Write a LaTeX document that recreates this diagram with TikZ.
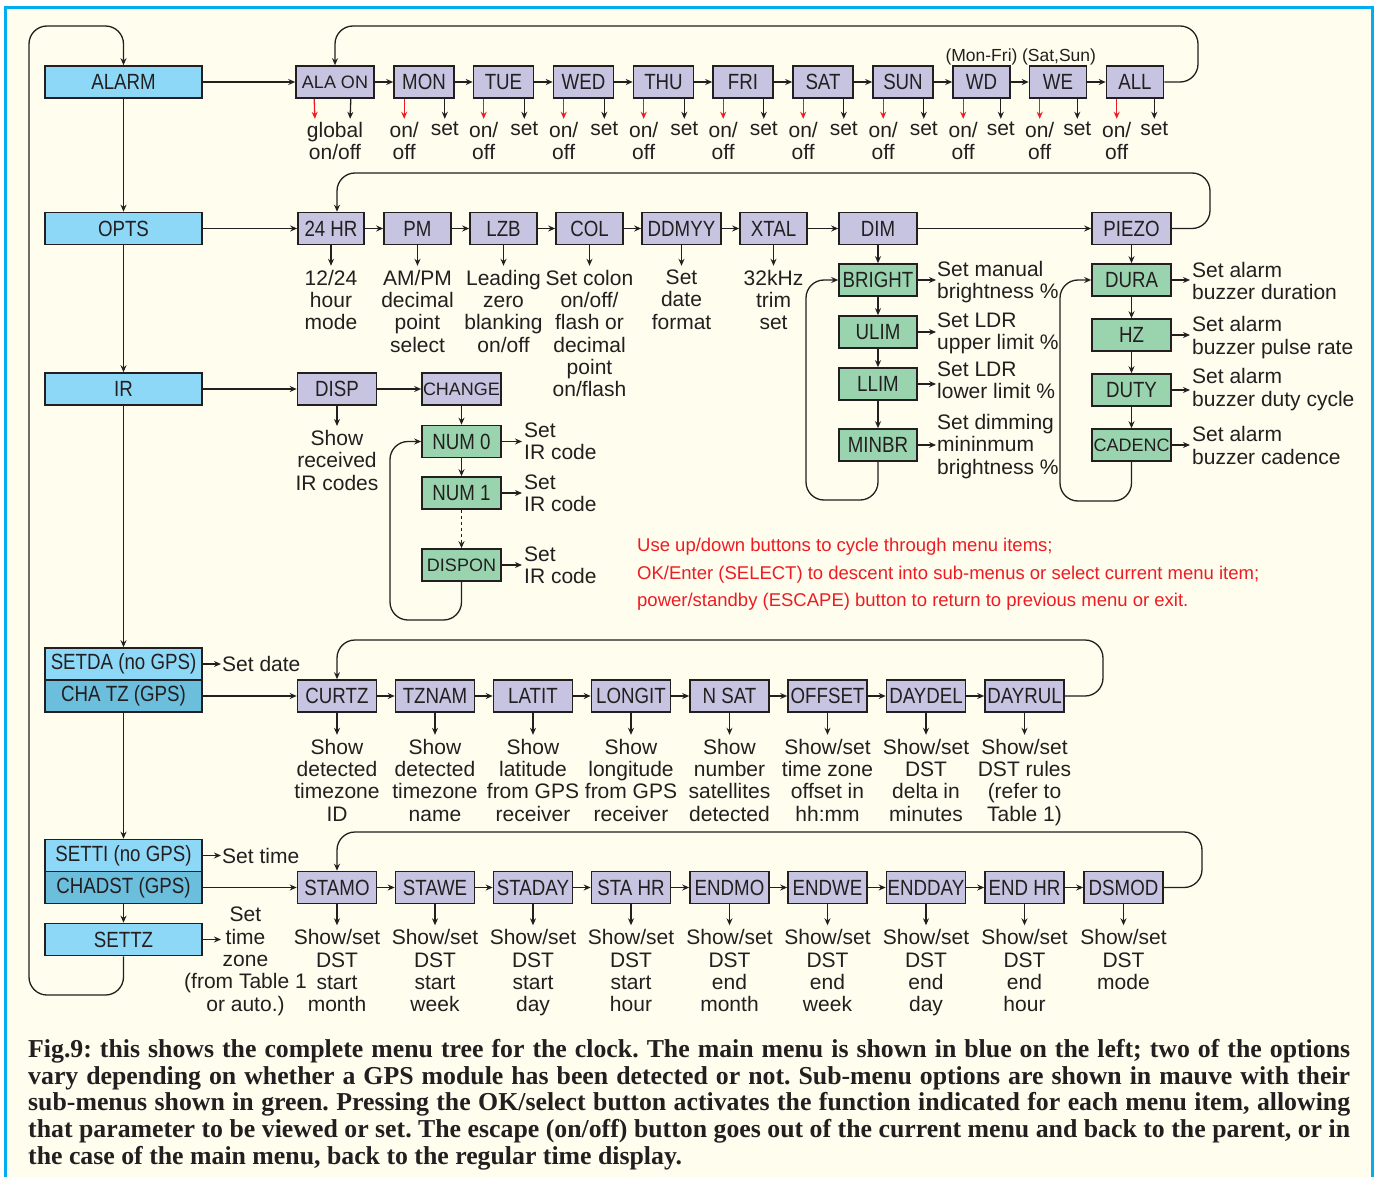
\documentclass[tikz,border=0pt]{standalone}
\usepackage{fontspec}
\setmainfont{Liberation Sans}
\newfontfamily\boxfont[FakeStretch=0.85]{Liberation Sans}
\newfontfamily\capfont{Liberation Serif}
\usepackage{tikz}
\usepackage{xcolor}
\usetikzlibrary{arrows.meta,positioning,calc}

\definecolor{framecyan}{RGB}{0,174,239}
\definecolor{paper}{RGB}{255,253,238}
\definecolor{mainblue}{RGB}{142,216,247}
\definecolor{gpsblue}{RGB}{108,190,221}
\definecolor{mauve}{RGB}{199,196,226}
\definecolor{subgreen}{RGB}{154,212,175}
\definecolor{inkred}{RGB}{237,28,36}
\definecolor{ink}{RGB}{35,31,32}

\begin{document}
\begin{tikzpicture}[
    x=1pt, y=-1pt,
    box/.style={rectangle, draw=ink, line width=1.6pt, inner sep=0pt, minimum height=32pt, text=ink, font=\boxfont\fontsize{22}{24}\selectfont},
    mainbox/.style={box, fill=mainblue, minimum width=157pt},
    gpsbox/.style={mainbox, fill=gpsblue},
    subbox/.style={box, fill=mauve, minimum width=79pt},
    greenbox/.style={box, fill=subgreen, minimum width=79pt},
    smalltext/.style={font=\fontsize{18}{20}\selectfont},
    note/.style={inner sep=0pt, align=center, anchor=north, text=ink, font=\fontsize{21}{22.3}\selectfont},
    sidenote/.style={note, align=left, anchor=base west},
    arrow/.style={-{Stealth[length=7pt,width=6pt]}, line width=1.3pt, draw=ink},
    onarrow/.style={arrow, draw=inkred},
    labelarrow/.style={arrow, shorten >=4pt},
    looparrow/.style={arrow, rounded corners=18pt}
]
% page and frame
\useasboundingbox (0,0) rectangle (1376,1177);
\clip (0,0) rectangle (1376,1177);
\fill[white] (0,0) rectangle (1376,1177);
\draw[framecyan, line width=3pt, fill=paper] (5,8) rectangle (1372,1210);

% main menu
\node[mainbox] (alarm) at (123.5,82) {ALARM};
\node[mainbox] (opts) at (123.5,228.5) {OPTS};
\node[mainbox] (ir) at (123.5,389) {IR};
\node[mainbox] (setda) at (123.5,664) {SETDA (no GPS)};
\node[gpsbox] (chatz) at (123.5,696) {CHA TZ (GPS)};
\node[mainbox] (setti) at (123.5,855.5) {SETTI (no GPS)};
\node[gpsbox] (chadst) at (123.5,887.5) {CHADST (GPS)};
\node[mainbox] (settz) at (123.5,939.5) {SETTZ};

\draw[arrow] (alarm) -- (opts);
\draw[arrow] (opts) -- (ir);
\draw[arrow] (ir) -- (setda);
\draw[arrow] (chatz) -- (setti);
\draw[arrow] (chadst) -- (settz);
\draw[looparrow] (settz.south) -- (123.5,995) -- (29,995) -- (29,26) -- (123.5,26) -- (alarm.north);

\node[sidenote] (setdatenote) at (222,671.5) {Set date};
\draw[arrow, shorten >=1pt] (setda) -- (setda -| setdatenote.west);
\node[sidenote] (settinote) at (222,863) {Set time};
\draw[arrow, shorten >=1pt] (setti) -- (setti -| settinote.west);
\coordinate (tzend) at (221,939.5);
\draw[arrow] (settz) -- (tzend);
\node[note] (settznote) at (245.5,907) {Set\\time\\zone\\(from Table 1\\or auto.)};

% alarm sub-menu
\node[subbox, smalltext, minimum width=78pt] (alaon) at (335,82) {ALA ON};
\draw[arrow] (alarm) -- (alaon);
\node[note] (alaonnote) at ([yshift=-23pt]alaon.south) {global\\on/off};
\draw[onarrow, shorten >=3pt] ([xshift=19pt]alaon.south west) -- ([xshift=-20pt]alaonnote.north);
\draw[arrow, shorten >=3pt] ([xshift=-24pt]alaon.south east) -- ([xshift=15pt]alaonnote.north);
\foreach \n/\t/\x/\w [remember=\n as \prev (initially alaon)] in
    {mon/MON/424/60, tue/TUE/503.5/60, wed/WED/583.5/60, thu/THU/663.5/60, fri/FRI/743/60,
     sat/SAT/823/60, sun/SUN/903/60, wd/WD/981.5/57, we/WE/1058/57, all/ALL/1135/57}
{
    \node[subbox, minimum width=\w*1pt] (\n) at (\x,82) {\t};
    \draw[arrow] (\prev) -- (\n);
    \node[note] (\n-on) at ([xshift=11pt, yshift=-23pt]\n.south west) {on/\\off};
    \node[note] (\n-set) at ([xshift=-10pt, yshift=-23pt]\n.south east) {set};
    \draw[onarrow, shorten >=3pt] ([xshift=11pt]\n.south west) -- (\n-on.north);
    \draw[arrow, shorten >=3pt] ([xshift=-10pt]\n.south east) -- (\n-set.north);
}
\node[note, anchor=base, font=\fontsize{17.5}{19}\selectfont] (wdnote) at (981.5,62) {(Mon-Fri)};
\node[note, anchor=base, font=\fontsize{17.5}{19}\selectfont] (wenote) at (1059,62) {(Sat,Sun)};
\draw[looparrow] (all.east) -- (1198,82) -- (1198,26) -- (335,26) -- (alaon.north);

% options sub-menu
\node[subbox, minimum width=66pt] (hr24) at (331,228.5) {24 HR};
\node[subbox, minimum width=67pt] (pm) at (417.5,228.5) {PM};
\node[subbox, minimum width=67pt] (lzb) at (503.5,228.5) {LZB};
\node[subbox, minimum width=67pt] (col) at (589.5,228.5) {COL};
\node[subbox] (ddmyy) at (681.5,228.5) {DDMYY};
\node[subbox, minimum width=67pt] (xtal) at (773.5,228.5) {XTAL};
\node[subbox, minimum width=78pt] (dim) at (878,228.5) {DIM};
\node[subbox] (piezo) at (1131.5,228.5) {PIEZO};

\draw[arrow] (opts) -- (hr24);
\draw[arrow] (hr24) -- (pm);
\draw[arrow] (pm) -- (lzb);
\draw[arrow] (lzb) -- (col);
\draw[arrow] (col) -- (ddmyy);
\draw[arrow] (ddmyy) -- (xtal);
\draw[arrow] (xtal) -- (dim);
\draw[arrow] (dim) -- (piezo);
\draw[looparrow] (piezo.east) -- (1210,228.5) -- (1210,173) -- (337,173) -- ([xshift=6pt]hr24.north);

\node[note] (hr24note) at ([yshift=-24.5pt]hr24.south) {12/24\\hour\\mode};
\node[note] (pmnote) at ([yshift=-24.5pt]pm.south) {AM/PM\\decimal\\point\\select};
\node[note] (lzbnote) at ([yshift=-24.5pt]lzb.south) {Leading\\zero\\blanking\\on/off};
\node[note] (colnote) at ([yshift=-24.5pt]col.south) {Set colon\\on/off/\\flash or\\decimal\\point\\on/flash};
\node[note] (ddmyynote) at ([yshift=-24.5pt]ddmyy.south) {Set\\date\\format};
\node[note] (xtalnote) at ([yshift=-24.5pt]xtal.south) {32kHz\\trim\\set};
\draw[labelarrow] (hr24) -- (hr24note);
\draw[labelarrow] (pm) -- (pmnote);
\draw[labelarrow] (lzb) -- (lzbnote);
\draw[labelarrow] (col) -- (colnote);
\draw[labelarrow] (ddmyy) -- (ddmyynote);
\draw[labelarrow] (xtal) -- (xtalnote);

% dimming
\node[greenbox, minimum width=78pt] (bright) at (878,280) {BRIGHT};
\node[greenbox, minimum width=78pt] (ulim) at (878,332) {ULIM};
\node[greenbox, minimum width=78pt] (llim) at (878,384) {LLIM};
\node[greenbox, minimum width=78pt] (minbr) at (878,445) {MINBR};
\draw[arrow] (dim) -- (bright);
\draw[arrow] (bright) -- (ulim);
\draw[arrow] (ulim) -- (llim);
\draw[arrow] (llim) -- (minbr);
\draw[looparrow] (minbr.south) -- (878,500) -- (806,500) -- (806,280) -- (bright.west);

\node[sidenote] (brightnote) at (937,298.5) {Set manual\\brightness \%};
\node[sidenote] (ulimnote) at (937,349.5) {Set LDR\\upper limit \%};
\node[sidenote] (llimnote) at (937,398.5) {Set LDR\\lower limit \%};
\node[sidenote] (minbrnote) at (937,474) {Set dimming\\mininmum\\brightness \%};
\draw[arrow, shorten >=1pt] (bright) -- (bright -| brightnote.west);
\draw[arrow, shorten >=1pt] (ulim) -- (ulim -| ulimnote.west);
\draw[arrow, shorten >=1pt] (llim) -- (llim -| llimnote.west);
\draw[arrow, shorten >=1pt] (minbr) -- (minbr -| minbrnote.west);

% piezo
\node[greenbox] (dura) at (1131.5,280) {DURA};
\node[greenbox] (hz) at (1131.5,335) {HZ};
\node[greenbox] (duty) at (1131.5,390) {DUTY};
\node[greenbox, smalltext] (cadenc) at (1131.5,445) {CADENC};
\draw[arrow] (piezo) -- (dura);
\draw[arrow] (dura) -- (hz);
\draw[arrow] (hz) -- (duty);
\draw[arrow] (duty) -- (cadenc);
\draw[looparrow] (cadenc.south) -- (1131.5,501) -- (1060,501) -- (1060,280) -- (dura.west);

\node[sidenote] (duranote) at (1192,299.5) {Set alarm\\buzzer duration};
\node[sidenote] (hznote) at (1192,354) {Set alarm\\buzzer pulse rate};
\node[sidenote] (dutynote) at (1192,406) {Set alarm\\buzzer duty cycle};
\node[sidenote] (cadencnote) at (1192,464) {Set alarm\\buzzer cadence};
\draw[arrow, shorten >=2pt] (dura) -- (dura -| duranote.west);
\draw[arrow, shorten >=2pt] (hz) -- (hz -| hznote.west);
\draw[arrow, shorten >=2pt] (duty) -- (duty -| dutynote.west);
\draw[arrow, shorten >=2pt] (cadenc) -- (cadenc -| cadencnote.west);

% IR sub-menu
\node[subbox] (disp) at (337,389) {DISP};
\node[subbox, smalltext] (change) at (461.5,389) {CHANGE};
\node[greenbox] (num0) at (461.5,441.5) {NUM 0};
\node[greenbox] (num1) at (461.5,493) {NUM 1};
\node[greenbox, smalltext] (dispon) at (461.5,565) {DISPON};
\draw[arrow] (ir) -- (disp);
\draw[arrow] (disp) -- (change);
\draw[arrow] (change) -- (num0);
\draw[arrow] (num0) -- (num1);
\draw[arrow, dash pattern=on 3pt off 3pt] (num1) -- (dispon);
\draw[looparrow] (dispon.south) -- (461.5,620) -- (390,620) -- (390,441.5) -- (num0.west);

\node[note] (dispnote) at (337,430) {Show\\received\\IR codes};
\draw[labelarrow] (disp) -- (dispnote);
\node[sidenote] (num0note) at (524,459.5) {Set\\IR code};
\node[sidenote] (num1note) at (524,511.5) {Set\\IR code};
\node[sidenote] (disponnote) at (524,583.5) {Set\\IR code};
\draw[arrow, shorten >=2pt] (num0) -- (num0 -| num0note.west);
\draw[arrow, shorten >=2pt] (num1) -- (num1 -| num1note.west);
\draw[arrow, shorten >=2pt] (dispon) -- (dispon -| disponnote.west);

% help text
\node[anchor=base west, align=left, inner sep=0pt, text=inkred, font=\fontsize{18.5}{27.5}\selectfont] (help) at (637,606.5)
    {Use up/down buttons to cycle through menu items;\\
     OK/Enter (SELECT) to descent into sub-menus or select current menu item;\\
     power/standby (ESCAPE) button to return to previous menu or exit.};

% time zone sub-menu (GPS)
\node[subbox] (curtz) at (337,696) {CURTZ};
\node[subbox] (tznam) at (435,696) {TZNAM};
\node[subbox] (latit) at (533,696) {LATIT};
\node[subbox] (longit) at (631,696) {LONGIT};
\node[subbox] (nsat) at (729.5,696) {N SAT};
\node[subbox] (offset) at (827.5,696) {OFFSET};
\node[subbox] (daydel) at (926,696) {DAYDEL};
\node[subbox] (dayrul) at (1024.5,696) {DAYRUL};
\draw[arrow] (chatz) -- (curtz);
\draw[arrow] (curtz) -- (tznam);
\draw[arrow] (tznam) -- (latit);
\draw[arrow] (latit) -- (longit);
\draw[arrow] (longit) -- (nsat);
\draw[arrow] (nsat) -- (offset);
\draw[arrow] (offset) -- (daydel);
\draw[arrow] (daydel) -- (dayrul);
\draw[looparrow] (dayrul.east) -- (1103,696) -- (1103,640) -- (337,640) -- (curtz.north);

\node[note] (curtznote) at ([yshift=-26pt]curtz.south) {Show\\detected\\timezone\\ID};
\node[note] (tznamnote) at ([yshift=-26pt]tznam.south) {Show\\detected\\timezone\\name};
\node[note] (latitnote) at ([yshift=-26pt]latit.south) {Show\\latitude\\from GPS\\receiver};
\node[note] (longitnote) at ([yshift=-26pt]longit.south) {Show\\longitude\\from GPS\\receiver};
\node[note] (nsatnote) at ([yshift=-26pt]nsat.south) {Show\\number\\satellites\\detected};
\node[note] (offsetnote) at ([yshift=-26pt]offset.south) {Show/set\\time zone\\offset in\\hh:mm};
\node[note] (daydelnote) at ([yshift=-26pt]daydel.south) {Show/set\\DST\\delta in\\minutes};
\node[note] (dayrulnote) at ([yshift=-26pt]dayrul.south) {Show/set\\DST rules\\(refer to\\Table 1)};
\draw[labelarrow] (curtz) -- (curtznote);
\draw[labelarrow] (tznam) -- (tznamnote);
\draw[labelarrow] (latit) -- (latitnote);
\draw[labelarrow] (longit) -- (longitnote);
\draw[labelarrow] (nsat) -- (nsatnote);
\draw[labelarrow] (offset) -- (offsetnote);
\draw[labelarrow] (daydel) -- (daydelnote);
\draw[labelarrow] (dayrul) -- (dayrulnote);

% daylight saving sub-menu (GPS)
\node[subbox] (stamo) at (337,887.5) {STAMO};
\node[subbox] (stawe) at (435,887.5) {STAWE};
\node[subbox] (staday) at (533,887.5) {STADAY};
\node[subbox] (stahr) at (631,887.5) {STA HR};
\node[subbox] (endmo) at (729.5,887.5) {ENDMO};
\node[subbox] (endwe) at (827.5,887.5) {ENDWE};
\node[subbox] (endday) at (926,887.5) {ENDDAY};
\node[subbox] (endhr) at (1024.5,887.5) {END HR};
\node[subbox] (dsmod) at (1123.5,887.5) {DSMOD};
\draw[arrow] (chadst) -- (stamo);
\draw[arrow] (stamo) -- (stawe);
\draw[arrow] (stawe) -- (staday);
\draw[arrow] (staday) -- (stahr);
\draw[arrow] (stahr) -- (endmo);
\draw[arrow] (endmo) -- (endwe);
\draw[arrow] (endwe) -- (endday);
\draw[arrow] (endday) -- (endhr);
\draw[arrow] (endhr) -- (dsmod);
\draw[looparrow] (dsmod.east) -- (1202,887.5) -- (1202,832) -- (337,832) -- (stamo.north);

\node[note] (stamonote) at ([yshift=-25pt]stamo.south) {Show/set\\DST\\start\\month};
\node[note] (stawenote) at ([yshift=-25pt]stawe.south) {Show/set\\DST\\start\\week};
\node[note] (stadaynote) at ([yshift=-25pt]staday.south) {Show/set\\DST\\start\\day};
\node[note] (stahrnote) at ([yshift=-25pt]stahr.south) {Show/set\\DST\\start\\hour};
\node[note] (endmonote) at ([yshift=-25pt]endmo.south) {Show/set\\DST\\end\\month};
\node[note] (endwenote) at ([yshift=-25pt]endwe.south) {Show/set\\DST\\end\\week};
\node[note] (enddaynote) at ([yshift=-25pt]endday.south) {Show/set\\DST\\end\\day};
\node[note] (endhrnote) at ([yshift=-25pt]endhr.south) {Show/set\\DST\\end\\hour};
\node[note] (dsmodnote) at ([yshift=-25pt]dsmod.south) {Show/set\\DST\\mode};
\draw[labelarrow] (stamo) -- (stamonote);
\draw[labelarrow] (stawe) -- (stawenote);
\draw[labelarrow] (staday) -- (stadaynote);
\draw[labelarrow] (stahr) -- (stahrnote);
\draw[labelarrow] (endmo) -- (endmonote);
\draw[labelarrow] (endwe) -- (endwenote);
\draw[labelarrow] (endday) -- (enddaynote);
\draw[labelarrow] (endhr) -- (endhrnote);
\draw[labelarrow] (dsmod) -- (dsmodnote);

% caption
\node[anchor=north west, inner sep=0pt, text width=1322pt, align=justify, text=ink,
      font=\capfont\bfseries\fontsize{25.8}{26.8}\selectfont] (caption) at (28,1039)
    {\frenchspacing\tolerance=10000\hyphenpenalty=10000\exhyphenpenalty=10000
     Fig.9: this shows the complete menu tree for the clock. The main menu is shown in blue on the left; two of the options\linebreak
     vary depending on whether a GPS module has been detected or not. Sub-menu options are shown in mauve with their\linebreak
     sub-menus shown in green. Pressing the OK/select button activates the function indicated for each menu item, allowing\linebreak
     that parameter to be viewed or set. The escape (on/off) button goes out of the current menu and back to the parent, or in\linebreak
     the case of the main menu, back to the regular time display.};
\end{tikzpicture}
\end{document}
